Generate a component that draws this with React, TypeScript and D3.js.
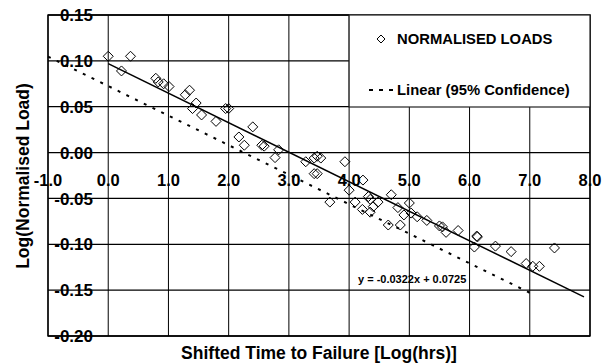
import React from "react";
import * as d3 from "d3";

// Normalised load measurements: shifted log-time vs log(normalised load)
const timeLog: number[] = [
  0.0, 0.37, 0.22, 0.79, 0.83, 0.92, 1.01, 1.35, 1.28, 1.46,
  1.4, 1.55, 1.79, 1.95, 2.0, 2.4, 2.17, 2.26, 2.55, 2.59,
  2.83, 2.77, 3.28, 3.42, 3.47, 3.53, 3.42, 3.47, 3.93, 4.23,
  4.0, 3.68, 4.1, 4.32, 4.35, 4.48, 4.4, 4.22, 4.35, 4.7,
  4.81, 4.91, 4.65, 4.85, 5.0, 5.03, 5.13, 5.29, 5.5, 5.55,
  5.61, 5.81, 6.12, 6.13, 6.08, 6.43, 6.69, 6.94, 7.05, 7.16,
  7.41,
];
const loadLog: number[] = [
  0.105, 0.105, 0.089, 0.081, 0.077, 0.075, 0.072, 0.068, 0.063, 0.054,
  0.048, 0.041, 0.034, 0.048, 0.048, 0.028, 0.017, 0.008, 0.008, 0.007,
  0.003, -0.0055, -0.01, -0.006, -0.004, -0.006, -0.023, -0.023, -0.01, -0.03,
  -0.041, -0.054, -0.054, -0.048, -0.051, -0.054, -0.059, -0.062, -0.065, -0.046,
  -0.06, -0.068, -0.079, -0.079, -0.055, -0.066, -0.07, -0.074, -0.08, -0.081,
  -0.087, -0.085, -0.091, -0.092, -0.103, -0.102, -0.108, -0.121, -0.124, -0.124,
  -0.104,
];

// Trendline: y = slope * x + intercept (95% confidence bound),
// best-fit line is the same slope offset by the time shift.
const slope = -0.0322;
const intercept = 0.0725;
const timeShift = 0.76;
const boundRange: [number, number] = [-1, 7];
const fitRange: [number, number] = [0, 7.9];

const xTicks: number[] = [-1, 0, 1, 2, 3, 4, 5, 6, 7, 8];
const yTicks: number[] = [0.15, 0.1, 0.05, 0, -0.05, -0.1, -0.15, -0.2];

const W = 609;
const H = 363;
const left = 48;
const right = 590;
const top = 15;
const bottom = 336;
const FONT = "'Liberation Sans', Arial, Helvetica, sans-serif";

// square diamond marker of half-diagonal r
const diamondPath = (r: number) => {
  const p = d3.path();
  p.moveTo(0, -r);
  p.lineTo(r, 0);
  p.lineTo(0, r);
  p.lineTo(-r, 0);
  p.closePath();
  return p.toString();
};

export default function App() {
  const x = d3.scaleLinear().domain([-1, 8]).range([left, right]);
  const y = d3.scaleLinear().domain([-0.2, 0.15]).range([bottom, top]);

  const legendX0 = x(4);
  const legendY1 = 107;

  const boundLine = d3
    .line<number>()
    .x((t) => x(t))
    .y((t) => y(slope * t + intercept));
  const fitLine = d3
    .line<number>()
    .x((t) => x(t))
    .y((t) => y(slope * (t - timeShift) + intercept));

  const marker = diamondPath(5);
  const legendMarker = diamondPath(4);

  return (
    <svg
      width={W}
      height={H}
      style={{ position: "absolute", left: 0, top: 0, background: "#fff" }}
      fontFamily={FONT}
      fontWeight="bold"
    >
      <rect x={0} y={0} width={W} height={H} fill="#fff" />
      {/* grid */}
      {xTicks.map((t) => (
        <line
          key={"gx" + t}
          x1={x(t)}
          x2={x(t)}
          y1={t >= 5 && t < 8 ? legendY1 : top}
          y2={bottom}
          stroke="#000"
          strokeWidth={1}
        />
      ))}
      {yTicks.map((v) => (
        <line
          key={"gy" + v}
          x1={left}
          x2={y(v) < legendY1 ? legendX0 : right}
          y1={y(v)}
          y2={y(v)}
          stroke="#000"
          strokeWidth={1.3}
        />
      ))}
      <rect
        x={left}
        y={top}
        width={right - left}
        height={bottom - top}
        fill="none"
        stroke="#000"
        strokeWidth={1.4}
      />

      {/* legend */}
      <rect
        x={legendX0}
        y={top}
        width={right - legendX0}
        height={legendY1 - top}
        fill="#fff"
        stroke="#222"
        strokeWidth={1.2}
      />
      <path d={legendMarker} transform={`translate(381,39)`} fill="none" stroke="#000" strokeWidth={1} />
      <text x={397} y={39} dy="0.36em" fontSize={14.8}>
        NORMALISED LOADS
      </text>
      <line x1={369} x2={393} y1={90} y2={90} stroke="#000" strokeWidth={2} strokeDasharray="4,6" />
      <text x={397} y={90} dy="0.36em" fontSize={14.8}>
        Linear (95% Confidence)
      </text>

      {/* tick labels */}
      {yTicks.map((v) => (
        <text key={"ty" + v} x={93} y={y(v)} dy="0.36em" textAnchor="end" fontSize={17}>
          {v.toFixed(2)}
        </text>
      ))}
      {xTicks.map((t) => (
        <text key={"tx" + t} x={x(t)} y={185.5} textAnchor="middle" fontSize={16.5}>
          {t.toFixed(1)}
        </text>
      ))}

      {/* lines */}
      <path d={boundLine(boundRange) || ""} fill="none" stroke="#000" strokeWidth={2} strokeDasharray="3,6.7" />
      <path d={fitLine(fitRange) || ""} fill="none" stroke="#000" strokeWidth={1.5} />

      {/* points */}
      {timeLog.map((t, i) => (
        <path
          key={"p" + i}
          d={marker}
          transform={`translate(${x(t)},${y(loadLog[i])})`}
          fill="none"
          stroke="#000"
          strokeWidth={1}
        />
      ))}

      <text x={358} y={279} dy="0.36em" fontSize={11}>
        {`y = ${slope}x + ${intercept}`}
      </text>

      {/* axis titles */}
      <text x={319} y={359} textAnchor="middle" fontSize={17.5}>
        Shifted Time to Failure [Log(hrs)]
      </text>
      <text
        transform={`translate(29,176) rotate(-90)`}
        textAnchor="middle"
        fontSize={17.5}
      >
        Log(Normalised Load)
      </text>
    </svg>
  );
}
